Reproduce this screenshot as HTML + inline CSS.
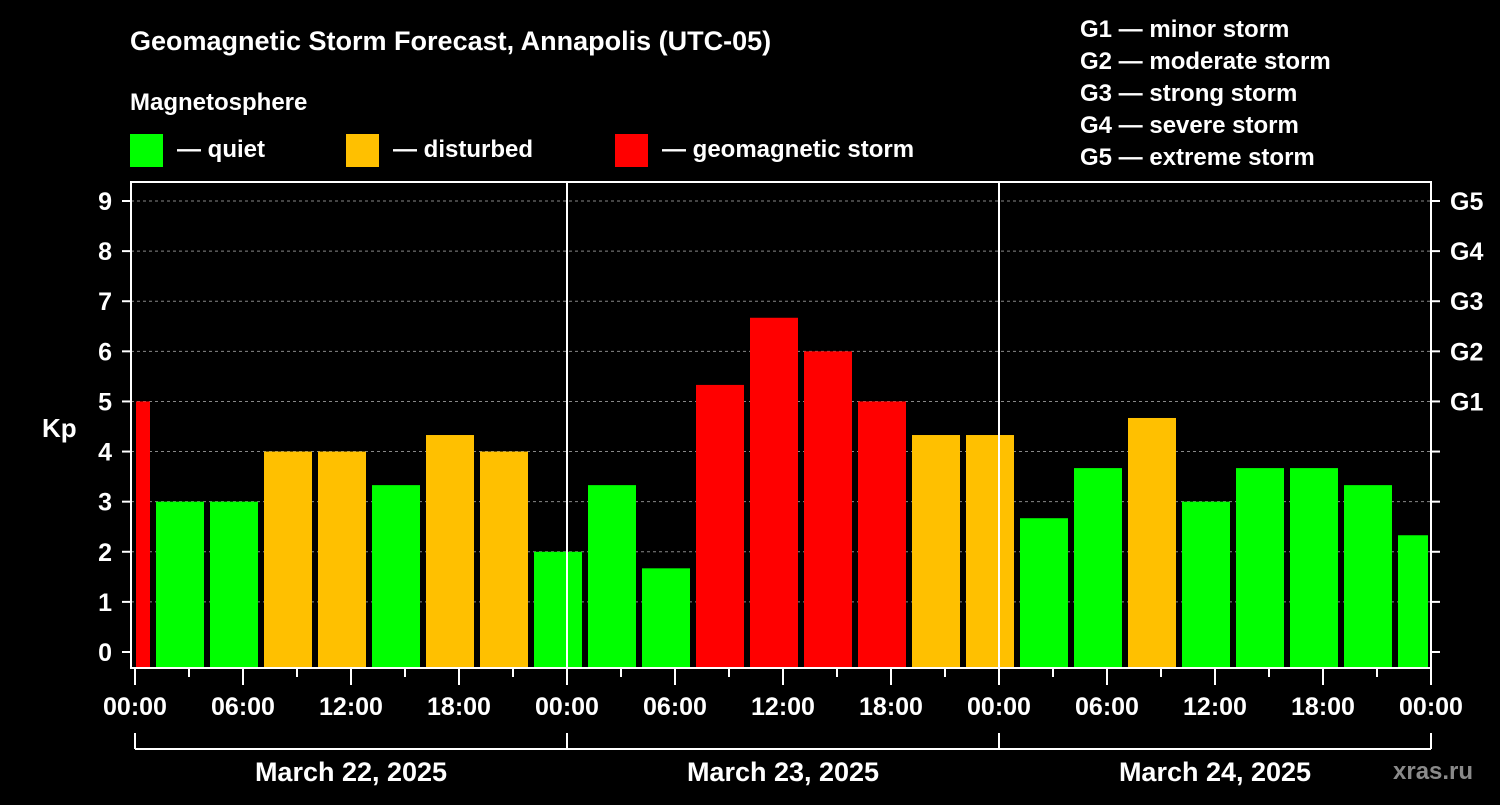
<!DOCTYPE html>
<html><head><meta charset="utf-8"><style>
body{margin:0;background:#000;width:1500px;height:800px;overflow:hidden}
svg text{font-family:"Liberation Sans",sans-serif;font-weight:bold;fill:#fff}
</style></head><body>
<svg id="c" width="1500" height="800" xmlns="http://www.w3.org/2000/svg">
<text x="130" y="50" font-size="27">Geomagnetic Storm Forecast, Annapolis (UTC-05)</text>
<text x="130" y="110" font-size="24">Magnetosphere</text>
<g><rect x="130" y="134" width="33" height="33" fill="#00ff00"/><text x="177" y="157" font-size="24">— quiet</text></g>
<g><rect x="346" y="134" width="33" height="33" fill="#ffc000"/><text x="393" y="157" font-size="24">— disturbed</text></g>
<g><rect x="615" y="134" width="33" height="33" fill="#ff0000"/><text x="662" y="157" font-size="24">— geomagnetic storm</text></g>
<g font-size="24">
<text x="1080" y="37">G1 — minor storm</text>
<text x="1080" y="69">G2 — moderate storm</text>
<text x="1080" y="101">G3 — strong storm</text>
<text x="1080" y="133">G4 — severe storm</text>
<text x="1080" y="165">G5 — extreme storm</text>
</g>
<text x="42" y="437" font-size="26">Kp</text>
<text x="1393" y="779" font-size="24" fill="#888" style="fill:#8a8a8a">xras.ru</text>
<g id="grid"></g><g id="bars"></g><g id="axes"></g>
</svg>
<script>
const kpValues=[5,3,3,4,4,3.33,4.33,4,2,3.33,1.67,5.33,6.67,6,5,4.33,4.33,2.67,3.67,4.67,3,3.67,3.67,3.33,2.33];
const barStartHours=[-2,1,4,7,10,13,16,19,22,25,28,31,34,37,40,43,46,49,52,55,58,61,64,67,70];
const yTicks=[0,1,2,3,4,5,6,7,8,9];
const gLabels=["G1","G2","G3","G4","G5"];
const xTickLabels=["00:00","06:00","12:00","18:00","00:00","06:00","12:00","18:00","00:00","06:00","12:00","18:00","00:00"];
const dateLabels=["March 22, 2025","March 23, 2025","March 24, 2025"];
const NS="http://www.w3.org/2000/svg";
const X0=135,HPX=18,Y0=652,YU=50.11,TOP=182,BOT=668,L=131,R=1431;
const x=h=>X0+h*HPX, y=v=>Y0-v*YU;
function mk(p,t,a){const e=document.createElementNS(NS,t);for(const k in a)e.setAttribute(k,a[k]);p.appendChild(e);return e;}
const grid=document.getElementById('grid'),bars=document.getElementById('bars'),ax=document.getElementById('axes');
yTicks.forEach(v=>{if(v>0){const l=mk(grid,'line',{x1:L,x2:R,y1:y(v),y2:y(v),stroke:'#888','stroke-dasharray':'3,3','stroke-width':1});

}});
kpValues.forEach((v,i)=>{let a=Math.max(x(barStartHours[i])+3,x(0)+1),b=Math.min(x(barStartHours[i]+3)-3,x(72)-3);
const c=v>=5?'#ff0000':(v>=4?'#ffc000':'#00ff00');
const r=mk(bars,'rect',{x:a,y:y(v),width:b-a,height:BOT-y(v),fill:c});

});
// frame
const f=mk(ax,'rect',{x:L,y:TOP,width:R-L,height:BOT-TOP,fill:'none',stroke:'#fff','stroke-width':2});


[1,2].forEach(d=>{const l=mk(ax,'line',{x1:x(24*d),x2:x(24*d),y1:TOP,y2:BOT,stroke:'#fff','stroke-width':2});

});
yTicks.forEach(v=>{mk(ax,'line',{x1:122,x2:L,y1:y(v),y2:y(v),stroke:'#fff','stroke-width':2});
mk(ax,'line',{x1:R,x2:1440,y1:y(v),y2:y(v),stroke:'#fff','stroke-width':2});
const t=mk(ax,'text',{x:112,y:y(v)+9,'font-size':25,'text-anchor':'end'});t.textContent=v;

});
gLabels.forEach((g,i)=>{const t=mk(ax,'text',{x:1450,y:y(5+i)+9,'font-size':25});t.textContent=g;

});
for(let h=0;h<=72;h+=3){const maj=h%6==0;mk(ax,'line',{x1:x(h),x2:x(h),y1:BOT,y2:maj?685:677,stroke:'#fff','stroke-width':2});}
xTickLabels.forEach((s,i)=>{const t=mk(ax,'text',{x:x(i*6),y:715,'font-size':25,'text-anchor':'middle'});t.textContent=s;

});
mk(ax,'line',{x1:x(0),x2:x(72),y1:749,y2:749,stroke:'#fff','stroke-width':2});
for(let d=0;d<=3;d++)mk(ax,'line',{x1:x(24*d),x2:x(24*d),y1:733,y2:749,stroke:'#fff','stroke-width':2});
dateLabels.forEach((s,i)=>{const t=mk(ax,'text',{x:x(24*i+12),y:781,'font-size':27,'text-anchor':'middle'});t.textContent=s;

});
</script>
</body></html>
